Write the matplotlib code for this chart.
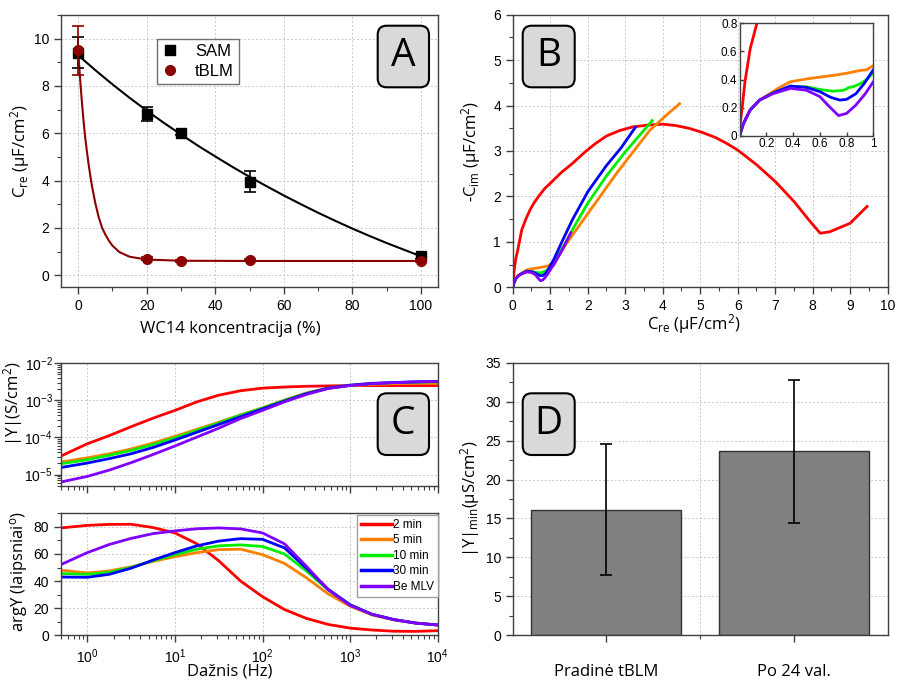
import matplotlib
matplotlib.use("Agg")
import matplotlib.pyplot as plt
import numpy as np
from matplotlib.patches import FancyBboxPatch
from matplotlib.ticker import MultipleLocator, LogLocator, NullFormatter, FuncFormatter

plt.rcParams['font.family'] = 'Liberation Sans'
plt.rcParams['font.size'] = 10
plt.rcParams['mathtext.default'] = 'regular'

LABEL_FONT = 'Open Sans'
SPINE = '#404040'

# ---------------------------------------------------------------------------
# A: capacitance vs WC14 fraction
# ---------------------------------------------------------------------------
wc14 = [0, 20, 30, 50, 100]
sam_c = [9.4, 6.8, 6.0, 3.95, 0.8]
sam_err = [0.65, 0.3, 0.08, 0.45, 0.1]
tblm_c = [9.5, 0.7, 0.6, 0.65, 0.6]
tblm_err = [1.05, 0.05, 0.04, 0.05, 0.05]

sam_fit_x = [0, 5, 10, 15, 20, 25, 30, 35, 40, 45, 50, 55, 60, 65, 70, 75, 80, 85, 90, 95, 100]
sam_fit_y = [9.3, 8.67, 8.07, 7.5, 6.96, 6.44, 5.95, 5.47, 5.02, 4.58, 4.16, 3.76, 3.37,
             3.0, 2.64, 2.3, 1.97, 1.66, 1.36, 1.08, 0.8]
tblm_fit_x = [0, 0.5, 1, 1.5, 2, 2.5, 3, 3.5, 4, 5, 6, 7, 8, 9, 10, 12, 15, 20, 30, 50, 100]
tblm_fit_y = [9.5, 8.45, 7.5, 6.65, 5.9, 5.3, 4.75, 4.25, 3.8, 3.05, 2.45, 2.0, 1.7, 1.45,
              1.25, 0.98, 0.78, 0.66, 0.61, 0.6, 0.6]

# ---------------------------------------------------------------------------
# B: complex capacitance plane (Cole-Cole)
# ---------------------------------------------------------------------------
cc_2min_re = [0.0, 0.02, 0.04, 0.08, 0.13, 0.24, 0.35, 0.46, 0.57, 0.68, 0.85, 1.04, 1.3,
              1.57, 1.93, 2.2, 2.5, 2.85, 3.2, 3.6, 4.0, 4.35, 4.7, 5.05, 5.4, 5.7, 6.0,
              6.5, 7.0, 7.5, 7.9, 8.2, 8.45, 9.0, 9.45]
cc_2min_im = [0.05, 0.2, 0.38, 0.62, 0.8, 1.26, 1.5, 1.7, 1.86, 1.99, 2.17, 2.32, 2.53,
              2.71, 2.98, 3.16, 3.33, 3.45, 3.53, 3.57, 3.59, 3.56, 3.5, 3.41, 3.3, 3.17,
              3.02, 2.7, 2.33, 1.89, 1.48, 1.19, 1.22, 1.41, 1.78]
cc_5min_re = [0.0, 0.03, 0.08, 0.15, 0.25, 0.3, 0.38, 0.5, 0.6, 0.7, 0.8, 0.9, 0.95, 1.0,
              1.2, 1.44, 1.88, 2.33, 2.77, 3.22, 3.66, 4.1, 4.45]
cc_5min_im = [0.0, 0.09, 0.185, 0.255, 0.315, 0.345, 0.385, 0.405, 0.418, 0.43, 0.445, 0.465,
              0.47, 0.5, 0.66, 0.97, 1.48, 2.0, 2.51, 2.99, 3.46, 3.79, 4.04]
cc_10min_re = [0.0, 0.03, 0.08, 0.15, 0.25, 0.38, 0.5, 0.6, 0.7, 0.78, 0.82, 0.85, 0.9, 0.95,
               1.0, 1.15, 1.35, 1.65, 2.0, 2.5, 3.0, 3.4, 3.72]
cc_10min_im = [0.0, 0.09, 0.185, 0.255, 0.305, 0.352, 0.35, 0.33, 0.318, 0.325, 0.345, 0.35,
               0.37, 0.4, 0.45, 0.62, 0.9, 1.35, 1.85, 2.45, 2.98, 3.36, 3.67]
cc_30min_re = [0.0, 0.03, 0.08, 0.15, 0.25, 0.38, 0.5, 0.6, 0.68, 0.75, 0.8, 0.87, 0.93, 1.0,
               1.1, 1.3, 1.6, 2.0, 2.5, 2.9, 3.27]
cc_30min_im = [0.0, 0.09, 0.185, 0.255, 0.305, 0.355, 0.345, 0.315, 0.275, 0.255, 0.26, 0.3,
               0.37, 0.47, 0.62, 0.98, 1.5, 2.1, 2.68, 3.08, 3.52]
cc_mlv_re = [0.0, 0.03, 0.08, 0.15, 0.25, 0.38, 0.5, 0.6, 0.67, 0.74, 0.8, 0.87, 0.94, 1.0,
             1.1, 1.25, 1.4, 1.55]
cc_mlv_im = [0.0, 0.09, 0.185, 0.255, 0.3, 0.338, 0.325, 0.28, 0.21, 0.145, 0.16, 0.22, 0.3,
             0.385, 0.5, 0.72, 0.95, 1.2]

# ---------------------------------------------------------------------------
# C: admittance spectra (modulus as log10 of S/cm2, phase in degrees)
# ---------------------------------------------------------------------------
freq = [0.5, 1, 1.78, 3.16, 5.62, 10, 17.8, 31.6, 56.2, 100, 178, 316, 562, 1000,
        1780, 3160, 5620, 10000]
logY_2min = [-4.5, -4.17, -3.95, -3.71, -3.48, -3.27, -3.04, -2.86, -2.74, -2.67, -2.64,
             -2.62, -2.61, -2.6, -2.6, -2.6, -2.6, -2.6]
logY_5min = [-4.66, -4.55, -4.44, -4.31, -4.15, -3.97, -3.78, -3.59, -3.39, -3.2, -2.99,
             -2.8, -2.67, -2.6, -2.57, -2.55, -2.54, -2.54]
logY_10min = [-4.71, -4.6, -4.48, -4.35, -4.19, -4.01, -3.81, -3.61, -3.4, -3.21, -3.0,
              -2.81, -2.67, -2.59, -2.55, -2.52, -2.51, -2.5]
logY_30min = [-4.81, -4.69, -4.57, -4.44, -4.27, -4.07, -3.86, -3.65, -3.44, -3.23, -3.02,
              -2.82, -2.67, -2.59, -2.54, -2.52, -2.5, -2.49]
logY_mlv = [-5.2, -5.05, -4.88, -4.68, -4.46, -4.23, -3.99, -3.75, -3.49, -3.27, -3.04,
            -2.84, -2.68, -2.6, -2.55, -2.52, -2.5, -2.49]

argY_2min = [79.2, 81.1, 81.8, 81.9, 79.5, 75.5, 67.5, 55, 40, 28.5, 19, 12.5, 8, 5.3,
             3.9, 3.0, 2.9, 3.4]
argY_5min = [48, 46, 47.5, 50.5, 54.5, 58, 61, 63.2, 63.5, 59.5, 53, 42.5, 30.5, 21.5,
             15, 11.3, 9, 7.6]
argY_10min = [45.5, 45, 46.5, 50, 55, 59.5, 63.5, 66, 66.7, 65.5, 60, 47.5, 33.5, 22.5,
              15.5, 11.6, 9, 7.6]
argY_30min = [43, 42.8, 45, 49.5, 55.5, 61, 66, 69.5, 71.3, 70.8, 64.5, 49.5, 34, 22.5,
              15.5, 11.6, 9, 7.6]
argY_mlv = [52.2, 61, 67, 71.5, 75, 77, 78.6, 79.2, 78.5, 75.5, 67.5, 51, 33.5, 22,
            15.5, 11.6, 9, 7.6]

series_names = ['2 min', '5 min', '10 min', '30 min', 'Be MLV']
series_colors = ['#ff0000', '#ff8000', '#00ee00', '#0000ff', '#8000ff']

# ---------------------------------------------------------------------------
# D: minimum admittance before / after 24 h
# ---------------------------------------------------------------------------
d_labels = ['Pradinė tBLM', 'Po 24 val.']
d_values = [16.1, 23.6]
d_errors = [8.4, 9.15]


W, H = 900, 683
fig = plt.figure(figsize=(W / 100, H / 100), dpi=100)


def px_axes(left, top, right, bottom):
    """Axes placed by pixel edges measured from the top-left corner."""
    return fig.add_axes([left / W, 1 - bottom / H, (right - left) / W, (bottom - top) / H])


def style_axes(ax, grid=True):
    for s in ax.spines.values():
        s.set_color(SPINE)
        s.set_linewidth(1.0)
    ax.tick_params(which='both', direction='out', color=SPINE, top=False, right=False,
                   labelsize=10)
    ax.tick_params(which='major', length=5, width=1)
    ax.tick_params(which='minor', length=3, width=0.8)
    if grid:
        ax.grid(True, which='major', ls=(0, (2, 2)), lw=0.7, color='#c8c8c8')
    ax.set_axisbelow(True)


def panel_tag(x, y, w, h, letter):
    """Rounded grey tag with a panel letter; pixel box from the top-left corner."""
    box = FancyBboxPatch((x / 100, (H - y - h) / 100), w / 100, h / 100,
                         boxstyle="round,pad=0,rounding_size=0.09",
                         transform=fig.dpi_scale_trans, fc='#d9d9d9', ec='black', lw=1.5,
                         zorder=10)
    fig.add_artist(box)
    fig.text((x + w / 2) / W, 1 - (y + h / 2) / H, letter, ha='center', va='center',
             fontsize=28, family=LABEL_FONT, zorder=11)


def ylab(ax, text, x, y=0.5):
    ax.set_ylabel(text, family=LABEL_FONT, fontsize=12)
    ax.yaxis.set_label_coords(x, y)


def xlab(ax, text, x, y):
    ax.set_xlabel(text, family=LABEL_FONT, fontsize=12)
    ax.xaxis.set_label_coords(x, y)


# ---- A ----
axA = px_axes(61, 15, 438, 287)
style_axes(axA)
axA.plot(sam_fit_x, sam_fit_y, color='black', lw=1.5, zorder=2)
axA.plot(tblm_fit_x, tblm_fit_y, color='#8b0000', lw=1.5, zorder=2)
axA.errorbar(wc14, sam_c, yerr=sam_err, fmt='s', color='black', ms=6.5, capsize=4.5,
             capthick=1.2, elinewidth=1.2, label='SAM', zorder=3)
axA.errorbar(wc14, tblm_c, yerr=tblm_err, fmt='o', color='#8b0000', ms=7, capsize=4.5,
             capthick=1.2, elinewidth=1.2, label='tBLM', zorder=4)
axA.set_xlim(-5, 105)
axA.set_ylim(-0.5, 11)
axA.xaxis.set_major_locator(MultipleLocator(20))
axA.xaxis.set_minor_locator(MultipleLocator(10))
axA.yaxis.set_major_locator(MultipleLocator(2))
axA.yaxis.set_minor_locator(MultipleLocator(1))
handles, labels = axA.get_legend_handles_labels()
handles = [h[0] for h in handles]
legA = axA.legend(handles, labels, loc='upper left', bbox_to_anchor=(0.254, 0.912),
                  fontsize=12, frameon=True, fancybox=False, framealpha=1,
                  edgecolor='#707070', handlelength=1.0, handletextpad=1.0, borderpad=0.3,
                  labelspacing=0.3, borderaxespad=0)
legA.get_frame().set_linewidth(1.0)
ylab(axA, 'C$_{re}$ (µF/cm$^2$)', -0.077)
xlab(axA, 'WC14 koncentracija (%)', 0.45, -0.125)
panel_tag(377.7, 25.7, 51.3, 61.6, 'A')

# ---- B ----
cc_re = [cc_2min_re, cc_5min_re, cc_10min_re, cc_30min_re, cc_mlv_re]
cc_im = [cc_2min_im, cc_5min_im, cc_10min_im, cc_30min_im, cc_mlv_im]

axB = px_axes(512.7, 14.7, 887.7, 287.3)
style_axes(axB)
for xr, yi, c in zip(cc_re, cc_im, series_colors):
    axB.plot(xr, yi, color=c, lw=2)
axB.set_xlim(0, 10)
axB.set_ylim(0, 6)
axB.xaxis.set_major_locator(MultipleLocator(1))
axB.xaxis.set_minor_locator(MultipleLocator(0.5))
axB.yaxis.set_major_locator(MultipleLocator(1))
axB.yaxis.set_minor_locator(MultipleLocator(0.5))
ylab(axB, '-C$_{im}$ (µF/cm$^2$)', -0.079)
xlab(axB, 'C$_{re}$ (µF/cm$^2$)', 0.483, -0.09)
panel_tag(522.7, 25.7, 52, 61.6, 'B')

axIn = px_axes(739.5, 23.3, 873.3, 136)
style_axes(axIn, grid=False)
axIn.set_facecolor('white')
for xr, yi, c in zip(cc_re, cc_im, series_colors):
    axIn.plot(xr, yi, color=c, lw=2)
axIn.set_xlim(0, 1)
axIn.set_ylim(0, 0.8)
axIn.set_xticks([0.2, 0.4, 0.6, 0.8, 1.0])
axIn.set_yticks([0, 0.2, 0.4, 0.6, 0.8])
fmt = FuncFormatter(lambda v, p: f'{v:g}')
axIn.xaxis.set_major_formatter(fmt)
axIn.yaxis.set_major_formatter(fmt)
axIn.tick_params(which='major', direction='in', length=3, labelsize=8.5, pad=1.5)

# ---- C (modulus) ----
logY = [logY_2min, logY_5min, logY_10min, logY_30min, logY_mlv]
argY = [argY_2min, argY_5min, argY_10min, argY_30min, argY_mlv]

axC1 = px_axes(61, 363.3, 437.7, 485.7)
style_axes(axC1)
for ly, c in zip(logY, series_colors):
    axC1.plot(freq, 10 ** np.array(ly), color=c, lw=2)
axC1.set_xscale('log')
axC1.set_yscale('log')
axC1.set_xlim(0.5, 1e4)
axC1.set_ylim(5e-6, 1e-2)
axC1.xaxis.set_major_locator(LogLocator(base=10, numticks=10))
axC1.xaxis.set_minor_locator(LogLocator(base=10, subs=np.arange(2, 10), numticks=10))
axC1.yaxis.set_major_locator(LogLocator(base=10, numticks=10))
axC1.yaxis.set_minor_locator(LogLocator(base=10, subs=np.arange(2, 10), numticks=10))
axC1.xaxis.set_major_formatter(NullFormatter())
axC1.xaxis.set_minor_formatter(NullFormatter())
axC1.yaxis.set_minor_formatter(NullFormatter())
axC1.tick_params(axis='y', which='major', pad=1)
ylab(axC1, '|Y|(S/cm$^2$)', -0.095, 0.67)
panel_tag(377.7, 393.3, 51.3, 61.7, 'C')

# ---- C (phase) ----
axC2 = px_axes(61, 513.3, 437.7, 635.3)
style_axes(axC2)
for ay, c, name in zip(argY, series_colors, series_names):
    axC2.plot(freq, ay, color=c, lw=2, label=name)
axC2.set_xscale('log')
axC2.set_xlim(0.5, 1e4)
axC2.set_ylim(0, 90)
axC2.xaxis.set_major_locator(LogLocator(base=10, numticks=10))
axC2.xaxis.set_minor_locator(LogLocator(base=10, subs=np.arange(2, 10), numticks=10))
axC2.xaxis.set_minor_formatter(NullFormatter())
axC2.yaxis.set_major_locator(MultipleLocator(20))
axC2.yaxis.set_minor_locator(MultipleLocator(10))
legC = axC2.legend(loc='upper left', bbox_to_anchor=(0.785, 0.99), fontsize=8.5,
                   fancybox=False, framealpha=1, edgecolor='#a0a0a0', handlelength=2.6,
                   handletextpad=0.15, labelspacing=0.3, borderpad=0.35, borderaxespad=0)
for line in legC.get_lines():
    line.set_linewidth(2.5)
ylab(axC2, 'argY (laipsniai$^{o}$)', -0.082, 0.527)
xlab(axC2, 'Dažnis (Hz)', 0.449, -0.235)

# ---- D ----
axD = px_axes(512.7, 362.7, 887.7, 635.3)
style_axes(axD, grid=False)
xpos = np.arange(1, len(d_values) + 1)
axD.bar(xpos, d_values, width=0.8, color='#808080', edgecolor='#333333', lw=1, zorder=2)
axD.errorbar(xpos, d_values, yerr=d_errors, fmt='none', ecolor='black', elinewidth=1.2,
             capsize=4, capthick=1.2, zorder=3)
axD.set_xlim(0.5, 2.5)
axD.set_ylim(0, 35)
axD.set_xticks(xpos)
axD.set_xticks([1.5], minor=True)
axD.set_xticklabels(d_labels, family=LABEL_FONT, fontsize=12)
axD.yaxis.set_major_locator(MultipleLocator(5))
axD.yaxis.set_minor_locator(MultipleLocator(2.5))
axD.grid(True, axis='y', which='major', ls=(0, (2, 2)), lw=0.7, color='#c8c8c8')
axD.grid(True, axis='x', which='minor', ls=(0, (2, 2)), lw=0.7, color='#c8c8c8')
axD.tick_params(axis='x', which='major', pad=16)
ylab(axD, '|Y|$_{min}$(µS/cm$^2$)', -0.082)
panel_tag(522.7, 393.3, 52, 61.7, 'D')

fig.savefig('out.png', dpi=100)
